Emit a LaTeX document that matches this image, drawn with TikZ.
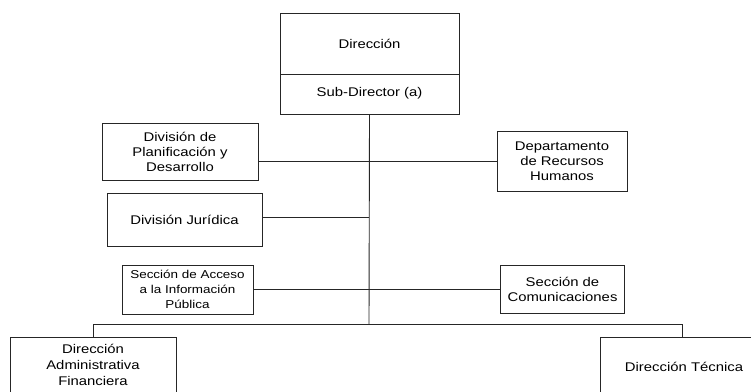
\documentclass[tikz,border=0pt]{standalone}
\usepackage{fontspec}
\setmainfont{Liberation Sans}[FakeStretch=1.18]
\begin{document}
\begin{tikzpicture}[x=1pt,y=-1pt,
  box/.style={draw=black!85, line width=0.9pt, rectangle, inner sep=0pt, align=center,
    font=\fontsize{12.6}{15}\selectfont},
  smallbox/.style={box, font=\fontsize{11.4}{15}\selectfont},
  conn/.style={draw=black!85, line width=0.9pt}]
\useasboundingbox (0,0) rectangle (751,391);
% top box
\node[box, minimum width=179pt, minimum height=101pt] (dir) at (369.5,63.5) {};
\node (dirt) at (369.5,44) {\fontsize{12.6}{15}\selectfont Dirección};
\node (subt) at (369.5,93) {\fontsize{12.6}{15}\selectfont Sub-Director (a)};
\coordinate (dl) at (280,74);
\coordinate (dr) at (459,74);
\draw[conn] (dl) -- (dr);
% side boxes
\node[box, minimum width=156pt, minimum height=57pt] (plan) at (180,151.5)
  {División de\\Planificación y\\Desarrollo};
\node[box, minimum width=130pt, minimum height=60pt] (dep) at (562,161)
  {Departamento\\de Recursos\\Humanos};
\node[box, minimum width=155pt, minimum height=53pt] (jur) at (184.5,219.5)
  {División Jurídica};
\node[smallbox, minimum width=131pt, minimum height=49pt] (acc) at (187.5,289.5)
  {Sección de Acceso\\a la Información\\Pública};
\node[box, minimum width=124pt, minimum height=48pt] (com) at (562.5,289)
  {Sección de\\Comunicaciones};
\node[box, minimum width=166pt, minimum height=70pt, anchor=north] (daf) at (93,337)
  {};
\node[anchor=north] (daft) at (93,341) {\parbox{150pt}{\centering\fontsize{12.6}{16}\selectfont Dirección\\Administrativa\\Financiera}};
\node[box, minimum width=170pt, minimum height=70pt, anchor=north west] (dt) at (600,337)
  {};
\node (dtt) at (684,366.5) {\fontsize{12.6}{15}\selectfont Dirección Técnica};
% connectors
\coordinate (j1) at (369,161);
\coordinate (j2) at (369,217);
\coordinate (j3) at (369,289);
\coordinate (j4) at (369,324);
\coordinate (br) at (682,324);
\draw[conn] (dir.south) -- (j4);
\draw[conn] (plan.east |- j1) -- (dep.west |- j1);
\draw[conn] (jur.east |- j2) -- (j2);
\draw[conn] (acc.east |- j3) -- (com.west |- j3);
\draw[conn] (daf.north) -- (daf.north |- j4) -- (br) -- (br |- dt.north);
\end{tikzpicture}
\end{document}
